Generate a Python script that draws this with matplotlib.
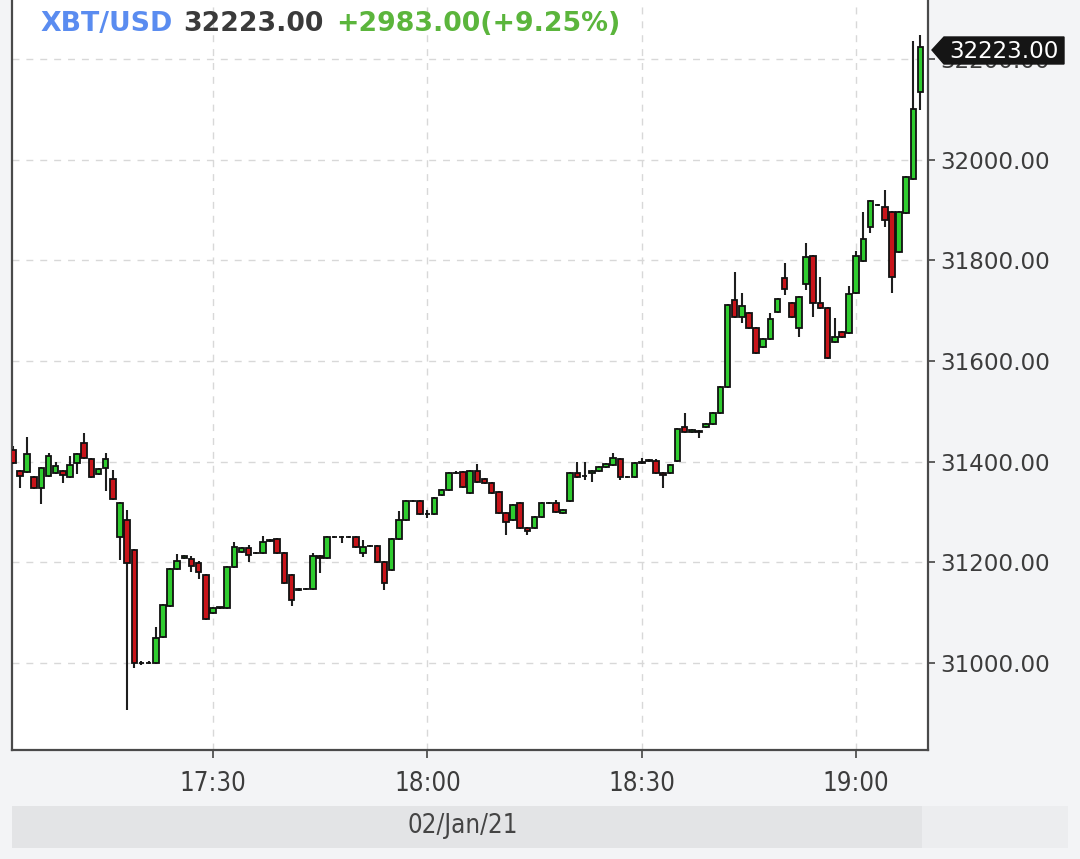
import numpy as np
import pandas as pd
import matplotlib
matplotlib.use("Agg")
import matplotlib.pyplot as plt
import matplotlib.dates as mdates
from matplotlib.patches import Polygon, Rectangle

# ---------------- data (1-minute candles, 02/Jan/21 17:02 .. 19:09) ----------------
start_time = "2021-01-02 17:02"
opens = [31423, 31381, 31379, 31369, 31348, 31371, 31377, 31381, 31369, 31397,
         31437, 31405, 31375, 31387, 31365, 31250, 31284, 31224, 31000, 31000,
         31000, 31052, 31113, 31187, 31209, 31207, 31199, 31175, 31099, 31109,
         31109, 31191, 31220, 31228, 31218, 31218, 31242, 31246, 31218, 31175,
         31145, 31147, 31147, 31212, 31209, 31250, 31250, 31250, 31250, 31218,
         31232, 31232, 31201, 31185, 31246, 31284, 31322, 31322, 31296, 31296,
         31334, 31344, 31377, 31379, 31338, 31381, 31365, 31357, 31340, 31298,
         31284, 31318, 31268, 31268, 31290, 31318, 31318, 31298, 31322, 31377,
         31371, 31377, 31381, 31389, 31393, 31405, 31369, 31369, 31397, 31401,
         31401, 31377, 31377, 31401, 31469, 31459, 31461, 31469, 31475, 31497,
         31548, 31721, 31687, 31695, 31665, 31628, 31643, 31697, 31765, 31715,
         31665, 31753, 31808, 31715, 31705, 31637, 31657, 31655, 31735, 31798,
         31866, 31910, 31906, 31896, 31816, 31894, 31961, 32134]
highs = [31430, 31383, 31449, 31372, 31389, 31417, 31399, 31383, 31411, 31417,
         31457, 31407, 31387, 31417, 31383, 31320, 31304, 31226, 31003, 31003,
         31071, 31117, 31189, 31216, 31214, 31212, 31203, 31177, 31111, 31112,
         31193, 31240, 31231, 31234, 31220, 31252, 31246, 31248, 31220, 31177,
         31149, 31149, 31218, 31214, 31252, 31252, 31252, 31252, 31252, 31244,
         31234, 31234, 31203, 31248, 31302, 31324, 31324, 31324, 31304, 31330,
         31346, 31379, 31381, 31381, 31383, 31395, 31367, 31359, 31342, 31300,
         31316, 31320, 31270, 31292, 31320, 31320, 31324, 31306, 31379, 31399,
         31399, 31383, 31391, 31397, 31417, 31407, 31371, 31399, 31407, 31405,
         31405, 31379, 31395, 31467, 31497, 31465, 31463, 31477, 31499, 31550,
         31713, 31777, 31735, 31697, 31667, 31645, 31695, 31725, 31794, 31717,
         31729, 31834, 31810, 31767, 31707, 31685, 31659, 31749, 31818, 31896,
         31920, 31912, 31939, 31898, 31898, 31967, 32235, 32247]
lows = [31395, 31348, 31377, 31345, 31316, 31369, 31375, 31357, 31367, 31375,
        31405, 31367, 31373, 31342, 31324, 31205, 30907, 30990, 30996, 30998,
        30998, 31050, 31111, 31185, 31207, 31181, 31167, 31085, 31097, 31107,
        31107, 31189, 31218, 31201, 31216, 31216, 31240, 31216, 31157, 31113,
        31143, 31145, 31145, 31179, 31207, 31248, 31238, 31248, 31228, 31210,
        31230, 31199, 31145, 31183, 31244, 31282, 31320, 31294, 31288, 31294,
        31332, 31342, 31375, 31348, 31336, 31357, 31355, 31336, 31296, 31254,
        31282, 31266, 31254, 31266, 31288, 31316, 31298, 31296, 31320, 31367,
        31363, 31359, 31379, 31387, 31391, 31363, 31367, 31367, 31395, 31399,
        31375, 31348, 31375, 31399, 31457, 31457, 31447, 31467, 31473, 31495,
        31546, 31685, 31675, 31663, 31614, 31626, 31641, 31695, 31731, 31685,
        31647, 31741, 31687, 31703, 31604, 31635, 31645, 31653, 31733, 31796,
        31854, 31908, 31866, 31735, 31814, 31892, 31959, 32098]
closes = [31397, 31371, 31415, 31348, 31387, 31411, 31391, 31373, 31393, 31415,
          31407, 31369, 31385, 31405, 31326, 31318, 31199, 31000, 31000, 31000,
          31050, 31115, 31187, 31203, 31212, 31193, 31181, 31087, 31109, 31111,
          31191, 31230, 31228, 31214, 31218, 31240, 31244, 31218, 31159, 31125,
          31147, 31147, 31212, 31209, 31250, 31250, 31250, 31250, 31230, 31230,
          31232, 31201, 31159, 31246, 31284, 31322, 31322, 31296, 31296, 31328,
          31344, 31377, 31377, 31350, 31381, 31359, 31357, 31338, 31298, 31280,
          31314, 31268, 31262, 31290, 31318, 31318, 31300, 31304, 31377, 31369,
          31371, 31381, 31389, 31395, 31407, 31369, 31369, 31397, 31399, 31403,
          31377, 31373, 31393, 31465, 31459, 31463, 31459, 31475, 31497, 31548,
          31711, 31687, 31709, 31665, 31616, 31643, 31683, 31723, 31743, 31687,
          31727, 31806, 31715, 31705, 31606, 31647, 31647, 31733, 31808, 31842,
          31918, 31910, 31880, 31767, 31896, 31965, 32100, 32223]

symbol = "XBT/USD"
last_price = "32223.00"
change_text = "+2983.00(+9.25%)"
date_label = "02/Jan/21"
y_ticks = [31000, 31200, 31400, 31600, 31800, 32000, 32200]
x_tick_labels = ["17:30", "18:00", "18:30", "19:00"]

# ---------------- figure ----------------
W, H = 1080, 859
fig = plt.figure(figsize=(W / 100, H / 100), dpi=100)
fig.patch.set_facecolor("#f3f4f6")


def fx(px):
    return px / W


def fy(py):
    return 1 - py / H


ax = fig.add_axes([fx(12), fy(750), fx(928) - fx(12), fy(0) - fy(750)])
ax.set_facecolor("white")

times = pd.date_range(start_time, periods=len(opens), freq="min")
xs = mdates.date2num(times.to_pydatetime())
o = np.array(opens, float)
h = np.array(highs, float)
l = np.array(lows, float)
c = np.array(closes, float)
up = c >= o

minute = 1.0 / 1440.0
body_w = 0.78 * minute

ax.vlines(xs, l, h, color="#1e1e1e", lw=1.5, zorder=2)
ax.bar(xs[up], c[up] - o[up], bottom=o[up], width=body_w,
       color="#2fcc2f", edgecolor="#111111", linewidth=1.3, zorder=3)
ax.bar(xs[~up], c[~up] - o[~up], bottom=o[~up], width=body_w,
       color="#c8141a", edgecolor="#111111", linewidth=1.3, zorder=3)

# axes limits
x0 = mdates.date2num(pd.Timestamp("2021-01-02 17:00").to_pydatetime())
ax.set_xlim(x0 + 1.89 * minute, x0 + 130.05 * minute)
ax.set_ylim(30827, 32317)

# ticks
tick_times = [pd.Timestamp("2021-01-02 " + s) for s in x_tick_labels]
ax.set_xticks(mdates.date2num([t.to_pydatetime() for t in tick_times]))
ax.set_xticklabels(x_tick_labels)
ax.set_yticks(y_ticks)
ax.set_yticklabels([f"{v:.2f}" for v in y_ticks])
ax.yaxis.tick_right()
ax.tick_params(axis="y", direction="out", length=5, width=1.2, color="#444444",
               pad=3.5, labelsize=16.6, labelcolor="#3c3c3c")
ax.tick_params(axis="x", direction="out", length=6, width=1.2, color="#444444",
               pad=9, labelcolor="#3c3c3c")
for lab in ax.get_xticklabels():
    lab.set_fontsize(18.5)
    lab.set_fontstretch("condensed")

ax.grid(True, color="#d8d8d8", linestyle=(0, (5, 5)), linewidth=1.0, zorder=0)
ax.set_axisbelow(True)

for side in ["left", "bottom", "right"]:
    ax.spines[side].set_color("#4a4a4a")
    ax.spines[side].set_linewidth(1.6)
ax.spines["top"].set_visible(False)

# ---------------- header ----------------
base_y = fy(31)
fig.text(fx(40), base_y, symbol, color="#5a8cf0", fontsize=19.3,
         fontweight="bold", va="baseline", ha="left")
fig.text(fx(183), base_y, last_price, color="#3a3a3a", fontsize=19.3,
         fontweight="bold", va="baseline", ha="left")
fig.text(fx(336), base_y, change_text, color="#5bb53c", fontsize=19.3,
         fontweight="bold", va="baseline", ha="left")

# ---------------- last price marker ----------------
pts = [(932, 50), (944, 37), (1064, 37), (1064, 64), (944, 64)]
fig.patches.append(Polygon([(fx(px), fy(py)) for px, py in pts], closed=True,
                           transform=fig.transFigure, facecolor="#151515",
                           edgecolor="#151515", zorder=5))
fig.text(fx(1004), fy(51), last_price, color="white", fontsize=16.6,
         va="center", ha="center", zorder=6)

# ---------------- date bar ----------------
fig.patches.append(Rectangle((fx(12), fy(848)), fx(922) - fx(12), fy(806) - fy(848),
                             transform=fig.transFigure, facecolor="#e3e4e6",
                             edgecolor="none", zorder=1))
fig.patches.append(Rectangle((fx(922), fy(848)), fx(1068) - fx(922), fy(806) - fy(848),
                             transform=fig.transFigure, facecolor="#ecedef",
                             edgecolor="none", zorder=1))
fig.text(fx(463), fy(826), date_label, color="#444444", fontsize=18.5,
         fontstretch="condensed", ha="center", va="center", zorder=6)

fig.savefig("out.png", dpi=100, facecolor=fig.get_facecolor())
